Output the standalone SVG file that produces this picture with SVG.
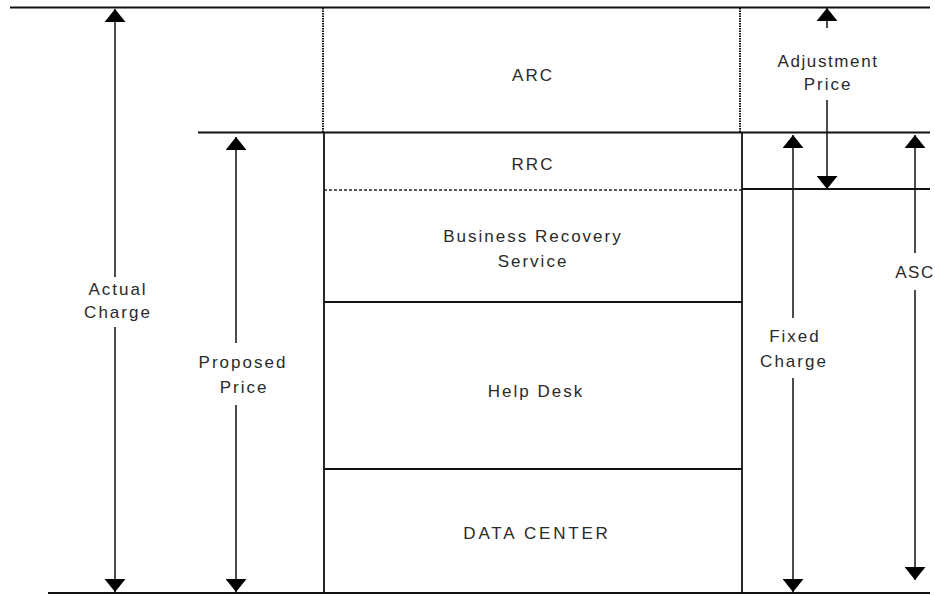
<svg xmlns="http://www.w3.org/2000/svg" width="935" height="596" viewBox="0 0 935 596">
<style>
.t{font-family:"Liberation Sans",Arial,sans-serif;font-size:17px;fill:#2a2a2a;text-anchor:middle;letter-spacing:2px}
.rule{stroke:#111;stroke-width:2;fill:none}
.box{stroke:#111;stroke-width:1.8;fill:none}
.dot{stroke:#111;stroke-width:2;stroke-dasharray:1.5 1;fill:none}
.dash{stroke:#222;stroke-width:1.3;stroke-dasharray:3 2;fill:none}
.arr{stroke:#111;stroke-width:1.5;fill:none}
</style>
<defs>
<marker id="ah" markerUnits="userSpaceOnUse" markerWidth="13" markerHeight="21" refX="13" refY="10.5" orient="auto">
<path d="M0,0 L13,10.5 L0,21 Z" fill="#000"/>
</marker>
</defs>
<g id="frame">
<line class="rule" x1="10" y1="7.5" x2="930" y2="7.5"/>
<line class="rule" x1="198" y1="132.5" x2="930" y2="132.5"/>
<line class="rule" x1="742" y1="189" x2="930" y2="189"/>
<line class="rule" x1="48" y1="593" x2="930" y2="593"/>
<line class="dot" x1="323" y1="8" x2="323" y2="132"/>
<line class="dot" x1="740" y1="8" x2="740" y2="132"/>
</g>
<g id="ARC"><text class="t" x="533" y="81">ARC</text></g>
<g id="RRC">
<line class="box" x1="324" y1="132" x2="324" y2="190"/>
<line class="box" x1="742" y1="132" x2="742" y2="190"/>
<text class="t" x="533" y="170">RRC</text>
</g>
<g id="BRS">
<line class="dash" x1="324" y1="190" x2="742" y2="190"/>
<line class="box" x1="324" y1="190" x2="324" y2="302"/>
<line class="box" x1="742" y1="190" x2="742" y2="302"/>
<text class="t" x="533" y="242">Business  Recovery</text>
<text class="t" x="533" y="267">Service</text>
</g>
<g id="HelpDesk">
<line class="box" x1="324" y1="302" x2="742" y2="302"/>
<line class="box" x1="324" y1="302" x2="324" y2="469"/>
<line class="box" x1="742" y1="302" x2="742" y2="469"/>
<text class="t" x="536" y="397">Help  Desk</text>
</g>
<g id="DataCenter">
<line class="box" x1="324" y1="469" x2="742" y2="469"/>
<line class="box" x1="324" y1="469" x2="324" y2="593"/>
<line class="box" x1="742" y1="469" x2="742" y2="593"/>
<text class="t" x="537" y="539" style="letter-spacing:2.8px">DATA  CENTER</text>
</g>
<g id="connectors">
<line class="arr" x1="115" y1="277" x2="115" y2="9" marker-end="url(#ah)"/>
<line class="arr" x1="115" y1="327" x2="115" y2="592" marker-end="url(#ah)"/>
<line class="arr" x1="236" y1="343" x2="236" y2="137" marker-end="url(#ah)"/>
<line class="arr" x1="236" y1="405" x2="236" y2="592" marker-end="url(#ah)"/>
<line class="arr" x1="827" y1="28" x2="827" y2="8" marker-end="url(#ah)"/>
<line class="arr" x1="827" y1="100" x2="827" y2="189" marker-end="url(#ah)"/>
<line class="arr" x1="793" y1="318" x2="793" y2="135" marker-end="url(#ah)"/>
<line class="arr" x1="793" y1="378" x2="793" y2="592" marker-end="url(#ah)"/>
<line class="arr" x1="915" y1="253" x2="915" y2="135" marker-end="url(#ah)"/>
<line class="arr" x1="915" y1="290" x2="915" y2="580" marker-end="url(#ah)"/>
</g>
<g id="labels">
<text class="t" x="118" y="295">Actual</text>
<text class="t" x="118" y="318">Charge</text>
<text class="t" x="243" y="368">Proposed</text>
<text class="t" x="244" y="393">Price</text>
<text class="t" x="828" y="67" style="letter-spacing:1.6px">Adjustment</text>
<text class="t" x="828" y="90">Price</text>
<text class="t" x="795" y="342">Fixed</text>
<text class="t" x="794" y="367">Charge</text>
<text class="t" x="915" y="278" style="letter-spacing:1.5px">ASC</text>
</g>
</svg>
